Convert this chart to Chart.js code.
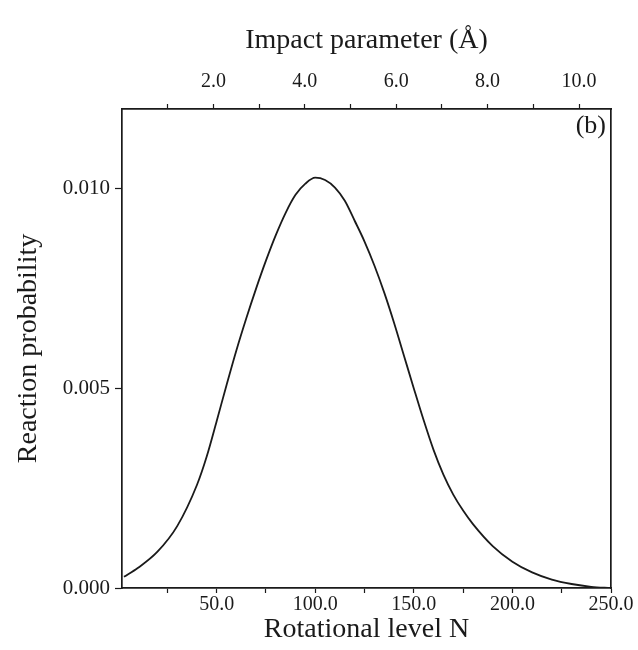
<!DOCTYPE html>
<html>
<head>
<meta charset="utf-8">
<script src="https://cdn.jsdelivr.net/npm/chart.js@4/dist/chart.umd.min.js"></script>
<style>
  html, body { margin: 0; padding: 0; background: #fff; }
  #wrap { width: 638px; height: 650px; position: relative; }
</style>
</head>
<body>
<div id="wrap"><canvas id="c" width="638" height="650"></canvas></div>
<script>
// ---- data ----
const rotationalLevel = [3, 10, 20, 30, 40, 45, 50, 55, 60, 65, 70, 75, 80, 85, 90, 95, 100, 105, 110, 115, 120, 125, 130, 135, 140, 145, 150, 155, 160, 165, 170, 175, 180, 190, 200, 210, 220, 230, 240, 250];
const reactionProbability = [0.00028, 0.00050, 0.00091, 0.00155, 0.00258, 0.00330, 0.00418, 0.00508, 0.00595, 0.00675, 0.00750, 0.00820, 0.00884, 0.00940, 0.00985, 0.01013, 0.01028, 0.01022, 0.01003, 0.00970, 0.00920, 0.00868, 0.00808, 0.00740, 0.00664, 0.00582, 0.00500, 0.00420, 0.00346, 0.00284, 0.00234, 0.00194, 0.00160, 0.00105, 0.00066, 0.00039, 0.00021, 0.00010, 0.00003, 0.00000];
const bottomMajorTicks = [50, 100, 150, 200, 250];
const bottomMinorTicks = [25, 75, 125, 175, 225];
const topMajorTicks = [2, 4, 6, 8, 10];
const topMinorTicks = [1, 3, 5, 7, 9];
const yTicks = [0, 0.005, 0.010];
const panelLabel = '(b)';

const points = rotationalLevel.map((n, i) => ({ x: n, y: reactionProbability[i] }));
const SERIF = '"Liberation Serif", "DejaVu Serif", serif';
const INK = '#1a1a1a';

const panelLabelPlugin = {
  id: 'panelLabel',
  afterDraw(chart) {
    const { ctx, chartArea } = chart;
    ctx.save();
    ctx.font = '26px ' + SERIF;
    ctx.fillStyle = INK;
    ctx.textAlign = 'right';
    ctx.textBaseline = 'top';
    ctx.fillText(panelLabel, chartArea.right - 5, chartArea.top + 4);
    ctx.restore();
  }
};

function setTicks(major, minor) {
  return function (scale) {
    const all = major.concat(minor).sort((a, b) => a - b);
    scale.ticks = all.map(v => ({ value: v, major: major.includes(v) }));
  };
}

new Chart(document.getElementById('c'), {
  type: 'scatter',
  data: {
    datasets: [{
      data: points,
      showLine: true,
      borderColor: INK,
      borderWidth: 1.8,
      pointRadius: 0,
      cubicInterpolationMode: 'monotone',
      fill: false
    }]
  },
  options: {
    responsive: false,
    animation: false,
    events: [],
    layout: { padding: { left: 0, right: 27, top: 0, bottom: 0 } },
    plugins: { legend: { display: false }, tooltip: { enabled: false } },
    scales: {
      x: {
        type: 'linear', position: 'bottom', min: 2, max: 250,
        afterBuildTicks: setTicks(bottomMajorTicks, bottomMinorTicks),
        afterFit(s) { s.height = 62; },
        ticks: {
          autoSkip: false, maxRotation: 0, padding: 0, color: INK,
          font: { family: SERIF, size: 20 },
          callback: v => bottomMajorTicks.includes(v) ? v.toFixed(1) : ''
        },
        grid: { drawOnChartArea: false, tickLength: 5, tickColor: INK, tickWidth: 1.2 },
        border: { display: true, color: INK, width: 1.7 },
        title: { display: true, text: 'Rotational level N', color: INK,
                 font: { family: SERIF, size: 28 }, padding: { top: 0, bottom: 4 } }
      },
      x2: {
        type: 'linear', position: 'top', min: 0, max: 10.7,
        afterBuildTicks: setTicks(topMajorTicks, topMinorTicks),
        afterFit(s) { s.height = 109; },
        ticks: {
          autoSkip: false, maxRotation: 0, padding: 10, color: INK,
          font: { family: SERIF, size: 20 },
          callback: v => topMajorTicks.includes(v) ? v.toFixed(1) : ''
        },
        grid: { drawOnChartArea: false, tickLength: 5, tickColor: INK, tickWidth: 1.2 },
        border: { display: true, color: INK, width: 1.7 },
        title: { display: true, text: 'Impact parameter (Å)', color: INK,
                 font: { family: SERIF, size: 28 }, padding: { top: 24, bottom: 0 } }
      },
      y: {
        type: 'linear', position: 'left', min: 0, max: 0.012,
        afterBuildTicks(s) { s.ticks = yTicks.map(v => ({ value: v })); },
        afterFit(s) { s.width = 122; },
        ticks: {
          autoSkip: false, padding: 5, color: INK,
          font: { family: SERIF, size: 21 },
          callback: v => v.toFixed(3)
        },
        grid: { drawOnChartArea: false, tickLength: 7, tickColor: INK, tickWidth: 1.2 },
        border: { display: true, color: INK, width: 1.7 },
        title: { display: true, text: 'Reaction probability', color: INK,
                 font: { family: SERIF, size: 28 }, padding: { top: 12, bottom: 0 } }
      },
      y2: {
        type: 'linear', position: 'right', min: 0, max: 0.012,
        afterFit(s) { s.width = 0; },
        ticks: { display: false },
        grid: { drawOnChartArea: false, drawTicks: false },
        border: { display: true, color: INK, width: 1.7 }
      }
    }
  },
  plugins: [panelLabelPlugin]
});
</script>
</body>
</html>
